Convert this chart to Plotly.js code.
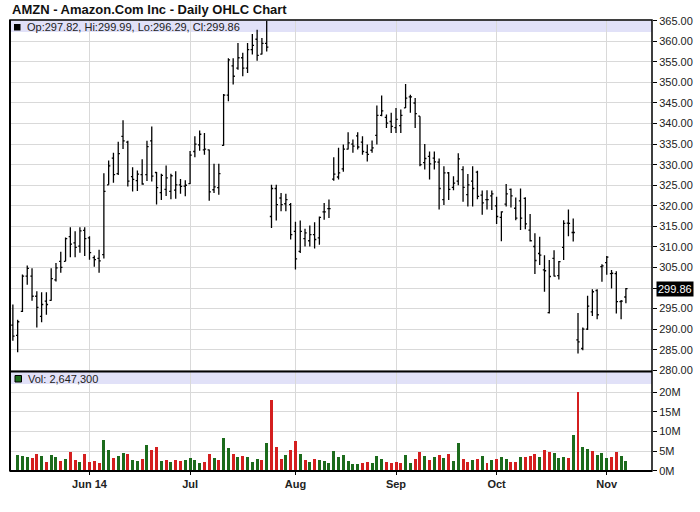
<!DOCTYPE html>
<html><head><meta charset="utf-8">
<script src="https://cdn.plot.ly/plotly-3.0.1.min.js"></script>
<style>html,body{margin:0;padding:0;background:#fff}#chart{width:700px;height:512px}</style>
</head><body><div id="chart"></div>
<script>
// trading-day index of first session of each month (first bar = 8 May 2014)
const tickIdx = [16, 37, 59, 80, 101, 124];
const tickLabels = ['Jun 14', 'Jul', 'Aug', 'Sep', 'Oct', 'Nov'];

const openP = [291.0,288.5,294.3,302.9,302.9,298.0,293.1,296.8,297.0,302.0,
306.5,306.5,312.5,311.0,310.2,314.0,312.2,307.4,307.2,308.1,
325.1,331.6,327.8,336.9,335.5,327.1,326.1,327.6,327.6,335.8,
328.1,323.2,324.0,323.5,323.8,325.1,324.8,325.4,333.2,334.8,
333.6,333.6,323.9,324.4,334.7,346.9,354.0,353.5,356.0,353.5,
358.0,360.5,356.9,359.5,317.4,324.2,321.9,320.5,320.3,313.8,
308.9,312.0,311.5,313.0,312.2,318.5,319.3,326.5,327.0,329.0,
333.8,335.0,337.0,335.5,333.0,333.5,337.1,342.0,341.5,340.5,
339.0,339.5,343.8,346.5,345.0,341.8,330.5,332.0,331.6,330.6,
321.5,328.0,324.5,326.0,328.8,322.7,326.0,328.2,322.6,321.5,
322.4,320.0,317.2,320.4,324.0,319.4,321.2,321.8,314.1,310.1,
308.4,304.4,294.0,307.2,303.0,309.9,315.8,313.5,287.4,285.3,
290.0,294.2,299.4,305.2,306.2,303.5,303.5,296.7,297.82];
const highP = [296.0,292.3,303.3,305.5,304.8,299.2,299.0,299.0,304.8,306.1,
308.8,312.3,314.8,313.8,314.8,314.8,312.6,307.9,309.3,327.9,
331.0,332.9,335.6,340.8,335.8,329.4,328.6,331.3,335.8,339.3,
328.2,327.8,329.8,327.8,328.4,326.5,326.2,333.3,336.9,338.3,
337.7,333.7,330.2,330.2,347.2,355.9,355.9,359.6,357.2,359.6,
361.8,362.8,360.8,365.0,325.1,325.1,323.1,322.9,320.7,316.1,
316.4,314.4,315.2,316.0,317.4,320.7,321.5,331.8,334.1,334.9,
337.9,336.1,337.9,336.9,334.9,335.9,344.4,346.8,342.2,342.6,
343.8,343.4,349.6,347.0,346.2,341.8,335.0,333.2,333.2,331.5,
329.6,328.2,327.2,332.8,329.6,327.7,329.6,328.5,323.7,323.8,
323.7,322.2,318.7,325.3,324.2,322.0,324.2,322.1,318.0,313.3,
312.5,308.0,306.8,309.2,306.6,316.5,319.1,316.9,293.9,290.4,
298.1,299.7,299.7,305.8,307.8,304.4,304.1,297.1,299.99];
const lowP = [287.2,284.4,294.2,300.8,296.9,290.4,291.7,293.5,296.9,301.6,
303.7,306.5,307.5,307.5,308.6,307.8,306.9,305.2,303.7,307.2,
325.1,325.6,327.5,333.8,324.7,323.5,323.6,325.1,326.0,325.9,
320.3,321.4,322.4,321.6,321.7,322.9,322.3,325.3,331.8,333.4,
332.4,321.2,323.1,322.7,334.6,345.4,349.5,353.1,351.5,352.3,
356.8,355.3,356.8,357.5,314.6,316.4,318.7,318.7,311.8,304.5,
308.5,310.1,310.1,309.6,310.5,316.6,317.0,326.1,326.4,328.3,
333.7,332.9,333.7,332.4,330.8,332.9,334.9,341.8,338.9,337.7,
337.7,337.7,343.8,342.6,338.9,329.6,328.8,326.4,328.8,319.1,
320.2,321.4,323.8,325.0,321.0,319.8,319.8,321.6,317.8,319.1,
319.0,315.6,311.4,319.8,319.6,316.5,314.1,314.3,311.3,303.4,
305.6,299.1,293.8,302.8,302.1,306.8,312.6,311.3,284.1,284.9,
289.8,293.2,292.4,301.5,303.2,299.9,293.8,292.4,296.29];
const closeP = [288.3,291.8,302.9,304.8,298.0,295.3,296.0,296.0,302.3,304.9,
305.0,312.0,310.7,309.9,313.9,312.0,308.6,306.9,306.6,323.5,
329.7,327.6,332.7,335.8,326.0,326.4,327.7,325.3,334.4,327.2,
324.4,327.4,326.8,327.3,325.1,324.7,325.0,332.3,335.0,337.4,
333.8,323.4,324.6,327.8,346.9,355.5,351.5,356.0,353.5,358.0,
359.0,356.6,359.5,358.6,324.2,320.3,320.3,321.5,313.0,307.1,
313.8,313.4,313.0,311.8,317.2,318.5,319.3,327.7,328.0,333.8,
335.3,334.5,334.3,333.2,332.5,334.1,342.0,343.1,340.1,339.3,
341.0,342.0,346.2,346.5,342.4,330.0,331.5,330.2,330.7,324.2,
328.0,324.0,325.5,331.4,324.5,325.1,324.2,322.3,320.7,321.5,
322.9,317.4,318.5,322.9,322.4,317.0,317.0,315.6,311.5,306.7,
308.0,304.2,302.8,302.9,306.4,315.7,315.7,313.5,286.9,290.0,
295.6,299.1,293.5,305.4,307.5,303.6,296.7,296.8,299.86];
// volume in millions of shares (first session not shown in the volume pane)
const volumeM = [null,4.05,3.9,3.6,3.4,4.3,3.9,2.3,4.1,3.5,
2.5,3.0,4.8,2.8,2.3,4.4,2.4,2.6,2.0,7.8,
5.3,3.4,3.9,4.6,4.3,2.8,2.6,3.1,6.7,5.3,
6.1,2.6,2.9,2.4,2.9,2.6,2.9,3.3,2.9,2.1,
2.4,4.4,3.4,2.9,8.4,5.7,4.4,3.6,3.9,3.6,
2.4,3.1,2.9,7.2,18.1,6.2,3.1,4.1,5.4,7.6,
4.4,2.9,2.4,3.1,2.8,2.6,2.0,5.1,3.6,4.1,
2.6,1.8,1.8,2.0,2.3,2.0,3.8,3.0,2.3,2.0,
2.3,2.0,4.05,2.0,3.0,4.8,3.8,2.8,3.5,4.05,
3.3,4.3,2.5,7.1,3.0,2.3,2.8,3.0,3.8,2.0,
2.8,3.0,3.5,3.0,2.3,2.3,3.5,3.5,3.8,4.3,
3.5,5.3,4.8,4.6,3.3,3.5,3.3,9.1,20.1,6.1,
5.6,5.1,4.05,4.6,3.3,3.5,4.8,3.8,2.6473];
// u = up (green) / d = down (red) volume bar
const volDir = ('-uuudduduud' + 'uddudddduu' + 'duuduududd' + 'ududduuuud' + 'duduududuu' +
  'ududdduddu' + 'duduuuuuuu' + 'uudduuuddd' + 'duuddududu' + 'duuddududu' +
  'duuddudddu' + 'dduuududuu' + 'duuudduu').split('');

const n = closeP.length;
const idx = closeP.map((_, i) => i);
const GREEN = '#1c6b1c', RED = '#d41f1f';
const volColors = volDir.map(d => d === 'd' ? RED : GREEN);

const FONT = 'Liberation Sans, Arial, Helvetica, sans-serif';
const PT = 20, PB = 471, PL = 10, PR = 652;
const py = Y => (PB - Y) / (PB - PT);
const px = X => (X - PL) / (PR - PL);
const split = 0.2206;

const last = n - 1;
const legendPrice = `Op:${openP[last].toFixed(2)}, Hi:${highP[last].toFixed(2)}, Lo:${lowP[last].toFixed(2)}, Cl:${closeP[last].toFixed(2)}`;
const legendVol = 'Vol: ' + Math.round(volumeM[last] * 1e6).toLocaleString('en-US');

const traces = [
  {type: 'ohlc', x: idx, open: openP, high: highP, low: lowP, close: closeP,
   xaxis: 'x', yaxis: 'y', tickwidth: 0.35, hoverinfo: 'none',
   increasing: {line: {color: '#000', width: 1.3}},
   decreasing: {line: {color: '#000', width: 1.3}}},
  {type: 'bar', x: idx, y: volumeM, xaxis: 'x', yaxis: 'y2', width: 0.62,
   marker: {color: volColors, line: {width: 0}}, hoverinfo: 'none'}
];

const grid = '#d9d9d9';
const layout = {
  width: 700, height: 512,
  margin: {l: PL, r: 700 - PR, t: PT, b: 512 - PB},
  paper_bgcolor: '#fff', plot_bgcolor: '#fff',
  showlegend: false, bargap: 0,
  font: {family: FONT, size: 11, color: '#222'},
  xaxis: {range: [-0.6, 133.45], anchor: 'y2', tickvals: tickIdx, ticktext: tickLabels,
    showgrid: true, gridcolor: grid, gridwidth: 1, zeroline: false, showline: false,
    ticks: 'outside', ticklen: 3, tickcolor: '#000',
    tickfont: {family: FONT, size: 11, color: '#222', weight: 'bold'},
    rangeslider: {visible: false}, fixedrange: true},
  yaxis: {domain: [split, 1], range: [279.7, 365.18], side: 'right', anchor: 'x',
    tick0: 280, dtick: 5, tickformat: '.2f', showgrid: true, gridcolor: grid,
    zeroline: false, showline: false, ticks: 'outside', ticklen: 4, tickcolor: '#000',
    tickfont: {family: FONT, size: 11, color: '#222'}, fixedrange: true},
  yaxis2: {domain: [0, split], range: [0, 25.2], side: 'right', anchor: 'x',
    tickvals: [0, 5, 10, 15, 20], ticktext: ['0M', '5M', '10M', '15M', '20M'],
    showgrid: true, gridcolor: grid, zeroline: false, showline: false,
    ticks: 'outside', ticklen: 4, tickcolor: '#000',
    tickfont: {family: FONT, size: 11, color: '#222'}, fixedrange: true},
  shapes: [
    {type: 'rect', xref: 'paper', yref: 'paper', x0: 0, x1: 1, y0: py(32), y1: py(20.5),
     fillcolor: '#e1e1f8', line: {width: 0}, layer: 'below'},
    {type: 'rect', xref: 'paper', yref: 'paper', x0: 0, x1: 1, y0: py(384), y1: py(372),
     fillcolor: '#e1e1f8', line: {width: 0}, layer: 'below'},
    {type: 'rect', xref: 'paper', yref: 'paper', x0: px(14), x1: px(20.5), y0: py(30.5), y1: py(24),
     fillcolor: '#000', line: {width: 0}},
    {type: 'rect', xref: 'paper', yref: 'paper', x0: px(15), x1: px(21.5), y0: py(382), y1: py(375.5),
     fillcolor: GREEN, line: {color: '#000', width: 1}},
    {type: 'rect', xref: 'paper', yref: 'paper', x0: 0, x1: 1, y0: 0, y1: 1,
     fillcolor: 'rgba(0,0,0,0)', line: {color: '#000', width: 1.5}},
    {type: 'line', xref: 'paper', yref: 'paper', x0: 0, x1: 1, y0: split, y1: split,
     line: {color: '#000', width: 2}},
    {type: 'line', xref: 'paper', yref: 'paper', x0: 0, x1: 0, y0: 0, y1: 1,
     line: {color: '#000', width: 2}},
    {type: 'line', xref: 'paper', yref: 'paper', x0: 0, x1: 1, y0: 0, y1: 0,
     line: {color: '#000', width: 2}}
  ],
  annotations: [
    {text: '<b>AMZN - Amazon.Com Inc - Daily OHLC Chart</b>', xref: 'paper', yref: 'paper',
     x: 0, y: py(9.5), xanchor: 'left', yanchor: 'middle', showarrow: false,
     font: {family: FONT, size: 13, color: '#111'}},
    {text: legendPrice, xref: 'paper', yref: 'paper', x: px(25), y: py(27.3),
     xanchor: 'left', yanchor: 'middle', showarrow: false,
     font: {family: FONT, size: 11, color: '#222'}},
    {text: legendVol, xref: 'paper', yref: 'paper', x: px(25.5), y: py(378.5),
     xanchor: 'left', yanchor: 'middle', showarrow: false,
     font: {family: FONT, size: 11, color: '#222'}},
    {text: closeP[last].toFixed(2), xref: 'paper', yref: 'y', x: 1, y: closeP[last],
     xanchor: 'left', yanchor: 'middle', xshift: 4, showarrow: false,
     bgcolor: '#000', borderpad: 1, font: {family: FONT, size: 11, color: '#fff'}}
  ]
};

Plotly.newPlot('chart', traces, layout, {staticPlot: true, displayModeBar: false});
</script>
</body></html>
